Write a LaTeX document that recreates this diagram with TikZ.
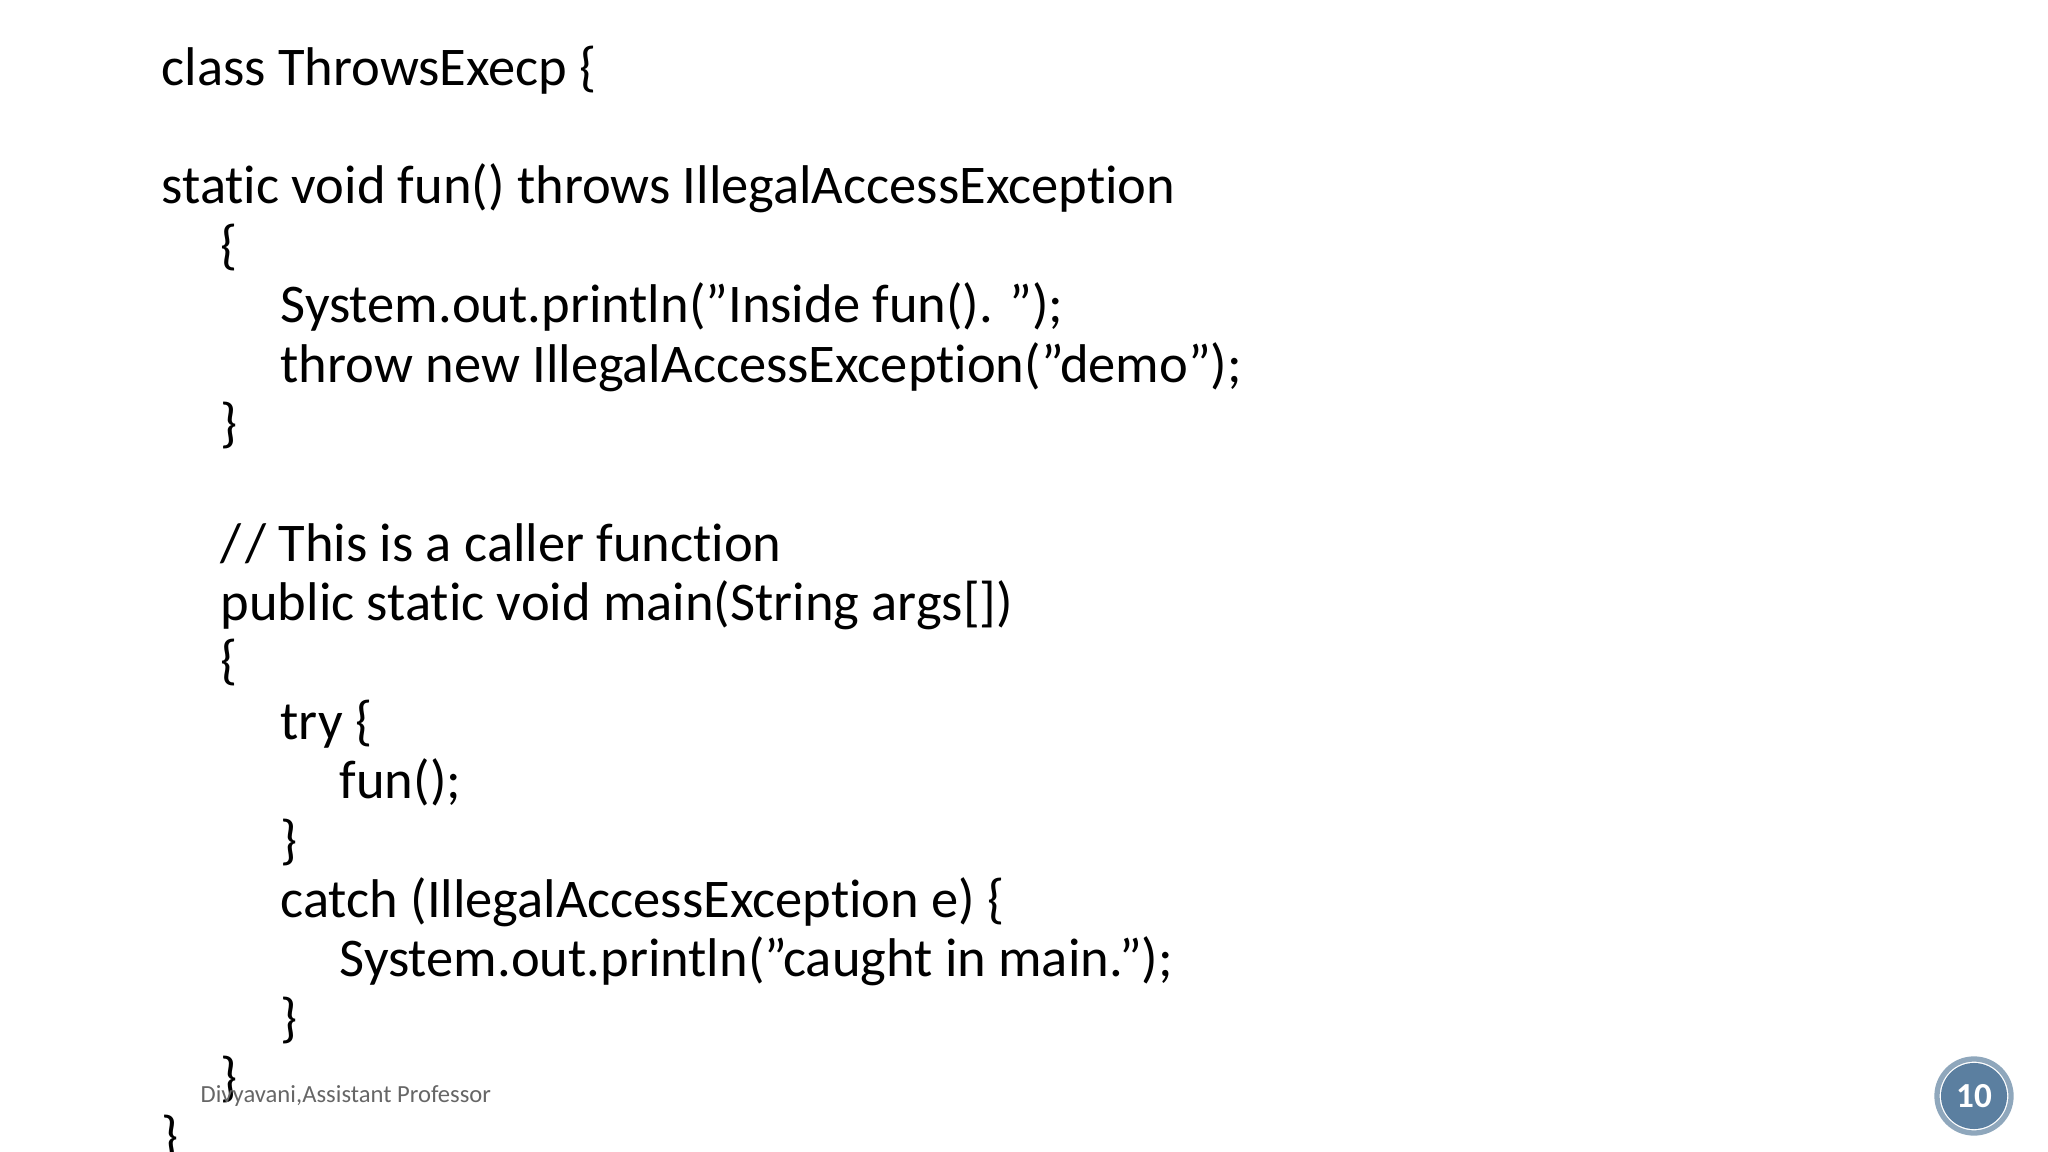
\documentclass[tikz,border=0pt]{standalone}
\usepackage{fontspec}
\setmainfont{Carlito}[Ligatures={NoCommon}]
\newcommand{\q}{\char34\relax}
\definecolor{badge}{HTML}{5B7FA0}
\definecolor{ring}{HTML}{8FA7BC}
\begin{document}
\begin{tikzpicture}[x=0.01cm,y=-0.01cm,
  code/.style={anchor=base west,inner sep=0pt,font=\fontsize{15.5}{18}\selectfont}]
\useasboundingbox (0,0) rectangle (2048,1152);
\node[code] (l1) at (161,86) {class ThrowsExecp \{};
\node[code] (l2) at (161,204) {static void fun() throws IllegalAccessException};
\node[code] (l3) at (220,264) {\{};
\node[code] (l4) at (280,323) {System.out.println(\q Inside fun(). \q);};
\node[code] (l5) at (280,383) {throw new IllegalAccessException(\q demo\q);};
\node[code] (l6) at (220,442) {\}};
\node[code] (l7) at (220,561) {/\kern1pt/ This is a caller function};
\node[code] (l8) at (220,620) {public static void main(String args[])};
\node[code] (l9) at (220,679) {\{};
\node[code] (l10) at (280,739) {try \{};
\node[code] (l11) at (339,798) {fun();};
\node[code] (l12) at (280,858) {\}};
\node[code] (l13) at (280,917) {catch (IllegalAccessException e) \{};
\node[code] (l14) at (339,976) {System.out.println(\q caught in main.\q);};
\node[code] (l15) at (280,1036) {\}};
\node[code] (l16) at (220,1095) {\}};
\node[code] (l17) at (161,1154) {\}};
\node[anchor=west,inner sep=0pt,text=black!60,font=\fontsize{7}{8}\selectfont] (foot) at (200,1096) {Divyavani,Assistant Professor};
\node[circle,draw=ring,line width=1.5pt,minimum size=0.74cm,inner sep=0pt] (outer) at (1974,1096) {};
\node[circle,fill=badge,minimum size=0.66cm,inner sep=0pt,text=white,font=\bfseries\fontsize{10}{11}\selectfont] (num) at (1974,1096) {10};
\end{tikzpicture}
\end{document}
